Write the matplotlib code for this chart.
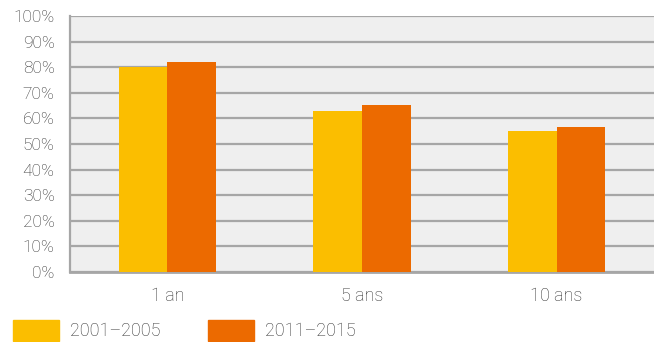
import matplotlib
matplotlib.use("Agg")
import matplotlib.pyplot as plt
import numpy as np
from matplotlib.patches import Rectangle

categories = ["1 an", "5 ans", "10 ans"]
series_names = ["2001–2005", "2011–2015"]
values_2001 = [80.0, 63.0, 55.2]
values_2011 = [82.0, 65.2, 56.7]
ytick_labels = [f"{v}%" for v in range(0, 101, 10)]

yellow = "#FBBE00"
orange = "#EC6A00"
text_col = "#333333"
grid_col = "#a6a6a6"

plt.rcParams['font.family'] = ['Roboto', 'DejaVu Sans']

fig = plt.figure(figsize=(6.54, 3.42), dpi=100)
ax = fig.add_axes([70 / 654, 1 - 272 / 342, 584 / 654, 256 / 342])
ax.set_facecolor("#efefef")

x = np.arange(len(categories))
w = 0.25
ax.bar(x - w / 2, values_2001, width=w, color=yellow, zorder=3)
ax.bar(x + w / 2, values_2011, width=w, color=orange, zorder=3)

ax.set_xlim(-0.5, 2.5)
ax.set_ylim(0, 100)
ax.set_yticks(range(0, 101, 10))
ax.set_yticklabels(ytick_labels)
ax.set_xticks(x)
ax.set_xticklabels(categories)
ax.yaxis.grid(True, color=grid_col, linewidth=1.6, zorder=1)
ax.tick_params(axis='both', length=0, colors=text_col)
ax.tick_params(axis='x', pad=10.5, labelsize=13)
ax.tick_params(axis='y', pad=11, labelsize=12.5)
for lab in ax.get_xticklabels() + ax.get_yticklabels():
    lab.set_fontweight('light')

for s in ["top", "right"]:
    ax.spines[s].set_visible(False)
ax.spines["left"].set_color(grid_col)
ax.spines["left"].set_linewidth(1.6)
ax.spines["bottom"].set_color(grid_col)
ax.spines["bottom"].set_linewidth(2)
ax.set_axisbelow(True)

# legende
for i, (name, col) in enumerate(zip(series_names, [yellow, orange])):
    x0 = 13 + i * 195
    fig.patches.append(Rectangle((x0 / 654, 1 - 341 / 342), 46 / 654, 21 / 342,
                                 transform=fig.transFigure, color=col, figure=fig))
    fig.text((x0 + 57) / 654, 1 - 331 / 342, name, fontsize=13, color=text_col,
             va="center", ha="left", fontweight='light')

fig.savefig("out.png", dpi=100)
